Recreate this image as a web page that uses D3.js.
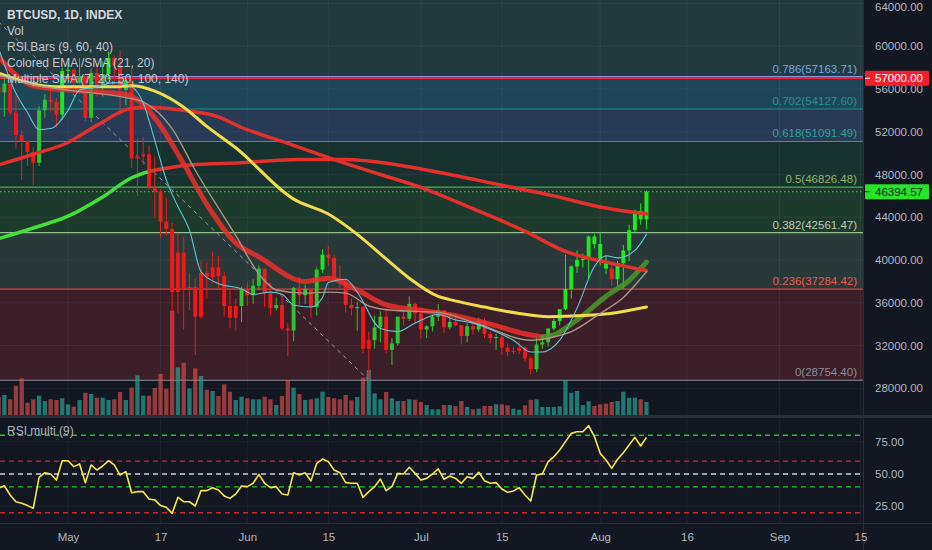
<!DOCTYPE html>
<html>
<head>
<meta charset="utf-8">
<script src="https://cdn.jsdelivr.net/npm/d3@7"></script>
<style>
  html, body { margin: 0; padding: 0; background: #131722; }
  svg { display: block; font-family: "Liberation Sans", Arial, sans-serif; }
</style>
</head>
<body>
<svg id="chart" width="932" height="550"></svg>
<script>
// BTCUSD daily, 2021-04-19 .. 2021-08-09 (113 bars)
const firstDay = "2021-04-19";
const lastDay = "2021-08-09";

const open = [
  56200,55700,56500,53800,51700,51100,50100,49100,54000,55000,54800,53600,
  57700,57800,56600,57200,53300,57500,56400,57400,58900,58200,55900,56800,49500,49700,49900,46800,46400,43600,42900,37000,40700,37300,37500,34700,38800,38400,39300,38500,35700,34600,35700,
  37300,36700,37600,39200,36900,35500,35800,33600,33400,37400,36700,37300,35600,39100,40500,40200,38300,38100,35800,35500,35600,31700,32500,33700,34700,31600,32200,34700,34500,35900,
  35000,33500,33800,34700,35300,33700,34200,33900,32900,33800,33500,34300,33100,32700,32800,31800,31400,31500,31800,30800,29800,32100,32300,33600,34300,35400,37300,39400,40000,40100,42200,
  41500,39900,39200,38200,39700,40900,42800,44600,43800
];
const high = [
  57500,57000,56800,55400,52100,51200,50600,54400,55500,56400,55200,58000,
  58500,57900,58900,57200,57900,58400,58600,59500,59200,59600,56900,58000,51400,51500,50700,49700,46600,45800,43500,42500,42200,38800,38300,39900,39800,40800,40400,38900,37200,36400,37500,
  37900,38200,39500,39200,37900,36500,36800,34100,37500,38400,37700,37400,39300,41000,41300,40500,39500,38200,36400,36100,35700,33300,34800,35200,35500,32700,34700,35300,36600,36000,
  35000,33900,34900,35900,35300,35000,35000,33900,34100,34200,34600,34600,33300,33100,33200,32200,31900,32400,31900,31000,32800,32600,33600,34500,35400,40500,39500,40900,40600,42300,42400,
  42600,40400,39800,39900,41400,43300,44700,45300,46500
];
const low = [
  54000,53400,53600,50400,47500,48800,47000,48800,53300,53900,52400,53100,
  57000,56000,56500,53000,52900,55300,55300,56900,56300,53600,54500,48600,46000,48900,46600,43900,42100,42300,30000,35000,33500,35300,31100,34500,36400,37800,37200,34700,33600,33400,34200,
  35700,35900,37200,35600,34800,35300,33400,31000,32400,35800,35900,34600,34800,38800,39500,38200,37400,35100,34800,33400,31300,28754,31700,32300,31300,30200,32000,33900,34300,34000,
  32700,32700,33300,34300,33200,33500,33800,32100,32300,33000,33300,32700,32200,31600,31100,31000,31200,31200,30500,29300,29500,31700,31900,33400,33900,35300,36400,38800,39300,38300,41100,
  39500,38700,37600,37500,37300,39900,42500,43300,42900
];
const close = [
  55700,56500,53800,51700,51100,50100,49100,54000,55000,54800,53600,57700,
  57800,56600,57200,53300,57500,56400,57400,58900,58200,55900,56800,49500,49700,49900,46800,46400,43600,42900,37000,40700,37300,37500,34700,38800,38400,39300,38500,35700,34600,35700,37300,
  36700,37600,39200,36900,35500,35800,33600,33400,37400,36700,37300,35600,39100,40500,40200,38300,38100,35800,35500,35600,31700,32500,33700,34700,31600,32200,34700,34500,35900,35000,
  33500,33800,34700,35300,33700,34200,33900,32900,33800,33500,34300,33100,32700,32800,31800,31400,31500,31800,30800,29800,32100,32300,33600,34300,35400,37300,39400,40000,40100,42200,41500,
  39900,39200,38200,39700,40900,42800,44600,43800,46394.57
];
// volume, arbitrary units
const volume = [
  18,20,15.7,29.3,36.7,12.3,15.7,19.3,14,15.7,15,16.7,
  10.7,8.3,15,22.3,21,17.3,17.3,15,15.7,23,15,27.3,39.7,19.3,19.3,27,41,26.3,104.3,47.7,52.3,26.7,46.7,39,25.3,24,19,30.7,23.3,15,18.3,
  16.7,15.7,15.7,18.3,15.7,10,19,35,27.3,21,15,15.7,16.7,23.3,18,16.7,15.7,20,14.7,18,37.3,45,21.7,15.7,23,16.7,14,14,15.7,15.3,
  13,10,5.7,5.7,10,10,8.7,14,8,5.7,6.3,9,9,10.7,10.7,9.7,6.3,5.3,9.7,15.3,15.7,8,8,8,8.7,34.7,22.3,24,10,13.7,9,
  10.7,11.3,13,14,23.3,17.3,17.3,15.7,13
];
// RSI (9)
const rsi = [
  38.9,40.9,33.7,28.5,27.3,25.5,23.4,47.4,51.0,50.0,45.3,60.3,
  60.3,55.7,57.8,43.3,57.0,53.1,56.2,60.3,57.0,49.2,51.8,35.5,36.3,36.3,30.6,29.9,25.5,24.2,19.5,31.9,28.5,28.5,25.2,37.1,37.1,39.4,37.6,33.0,31.1,34.5,40.7,
  40.2,42.8,49.7,42.8,39.4,40.2,34.5,33.7,51.0,49.2,51.0,44.6,58.3,61.6,59.6,53.1,51.0,43.3,42.8,42.8,31.9,36.3,40.2,46.1,37.1,40.2,50.5,50.0,55.2,50.5,
  45.3,46.6,50.0,53.9,45.9,48.4,46.6,42.8,47.9,46.6,51.3,44.8,42.8,43.3,38.4,35.8,36.8,39.4,33.7,29.1,49.2,50.0,59.6,63.4,68.6,75.1,81.5,82.8,82.8,87.5,79.0,
  66.0,60.9,54.4,61.4,66.5,72.5,78.4,71.7,78.4
];

// moving averages: [date, price]
const sma7 = [
  ["2021-04-19",59800],["2021-04-22",55600],["2021-04-24",53800],["2021-04-26",52200],["2021-04-28",52300],
  ["2021-05-01",54000],["2021-05-03",55900],["2021-05-06",56200],["2021-05-09",56600],["2021-05-12",56200],
  ["2021-05-14",54700],["2021-05-16",51200],["2021-05-18",47500],["2021-05-20",45000],["2021-05-22",42800],
  ["2021-05-24",38900],["2021-05-27",37800],["2021-05-31",37300],["2021-06-02",36800],["2021-06-05",37000],
  ["2021-06-07",36800],["2021-06-09",35800],["2021-06-12",35600],["2021-06-14",36500],["2021-06-15",37900],
  ["2021-06-18",38200],["2021-06-20",37000],["2021-06-24",33600],["2021-06-27",33300],["2021-06-30",34100],
  ["2021-07-04",34900],["2021-07-07",34400],["2021-07-10",34100],["2021-07-14",33300],["2021-07-17",32500],
  ["2021-07-20",31400],["2021-07-22",31400],["2021-07-25",32500],["2021-07-28",35500],["2021-07-31",39400],
  ["2021-08-02",40400],["2021-08-04",40200],["2021-08-07",40900],["2021-08-09",42400]
];
const sma20 = [
  ["2021-04-19",57300],["2021-04-25",56400],["2021-05-01",55900],["2021-05-11",55200],["2021-05-14",54800],
  ["2021-05-19",52300],["2021-05-23",48400],["2021-05-30",42300],["2021-06-03",38700],["2021-06-06",37200],
  ["2021-06-11",36900],["2021-06-15",37000],["2021-06-18",36900],["2021-06-22",35700],["2021-06-26",35300],
  ["2021-07-04",35100],["2021-07-11",34000],["2021-07-20",32500],["2021-07-24",32800],["2021-07-27",33300],
  ["2021-08-01",35000],["2021-08-05",36500],["2021-08-09",38900]
];
const sma50 = [
  ["2021-04-19",57500],["2021-04-29",56200],["2021-05-09",56200],["2021-05-12",56300],["2021-05-16",55800],
  ["2021-05-21",54300],["2021-05-25",52500],["2021-05-30",50500],["2021-06-09",45700],["2021-06-15",44300],
  ["2021-06-20",42400],["2021-06-25",40100],["2021-06-29",38300],["2021-07-04",36600],["2021-07-06",36300],
  ["2021-07-12",35600],["2021-07-18",35000],["2021-07-23",34700],["2021-07-29",34800],["2021-08-04",35100],
  ["2021-08-09",35600]
];
const sma100 = [
  ["2021-04-19",48900],["2021-04-25",49900],["2021-05-01",51000],["2021-05-06",52600],["2021-05-12",54200],
  ["2021-05-15",54300],["2021-05-21",54000],["2021-05-27",53400],["2021-05-31",52400],["2021-06-07",51100],
  ["2021-06-16",49400],["2021-06-24",48000],["2021-07-01",46800],["2021-07-10",44800],["2021-07-19",42700],
  ["2021-07-26",40800],["2021-08-02",39800],["2021-08-09",39000]
];
const sma140 = [
  ["2021-04-19",42000],["2021-04-25",43000],["2021-05-01",44100],["2021-05-07",45900],["2021-05-12",47700],
  ["2021-05-15",48300],["2021-05-22",48900],["2021-05-31",49100],["2021-06-10",49400],["2021-06-18",49400],
  ["2021-06-27",48900],["2021-07-06",48000],["2021-07-15",47000],["2021-07-24",46000],["2021-08-01",44960],
  ["2021-08-09",44300]
];
const sma140TurnsRed = "2021-05-15";
// Colored EMA / SMA (21, 20): red while bearish, green after the turn
const coloredMA = [
  ["2021-04-19",59000],["2021-04-25",56300],["2021-05-01",55900],["2021-05-07",55700],["2021-05-11",55500],
  ["2021-05-13",55000],["2021-05-16",53300],["2021-05-21",49000],["2021-05-25",45200],["2021-05-30",41600],
  ["2021-06-03",40300],["2021-06-11",38000],["2021-06-15",38300],["2021-06-20",37200],["2021-06-25",35800],
  ["2021-07-01",35300],["2021-07-07",34800],["2021-07-13",34000],["2021-07-19",33100],["2021-07-22",32800],
  ["2021-07-24",33000],["2021-07-28",34400],["2021-08-02",36600],["2021-08-06",38100],["2021-08-09",39800]
];
const coloredTurnsGreen = "2021-07-22";

// fib retracement
const fibRatios = [0, 0.236, 0.382, 0.5, 0.618, 0.702, 0.786, 1];
const fibPrices = [28754.40, 37284.42, 42561.47, 46826.48, 51091.49, 54127.60, 57163.71, 64898.56];
const fibHigh = ["2021-04-14", 64898.56];
const fibLow = ["2021-06-22", 28754.40];
const alertPrice = 57000;
const lastPrice = 46394.57;

const priceTicks = [28000, 32000, 36000, 40000, 44000, 48000, 52000, 56000, 60000, 64000];
const rsiTicks = [25, 50, 75];
const rsiLevels = [80, 60, 50, 40, 20];
const timeTicks = ["2021-05-01","2021-05-17","2021-06-01","2021-06-15","2021-07-01","2021-07-15","2021-08-01","2021-08-16","2021-09-01","2021-09-15"];
const timeLabels = ["May","17","Jun","15","Jul","15","Aug","16","Sep","15"];

const legend = ["BTCUSD, 1D, INDEX", "Vol", "RSI Bars (9, 60, 40)", "Colored EMA /SMA (21, 20)", "Multiple SMA (7, 20, 50, 100, 140)"];

// ---------------------------------------------------------------
const parse = d3.utcParse("%Y-%m-%d");
const svg = d3.select("#chart");
const W = 932, H = 550, plotR = 863, mainB = 415, rsiT = 418, rsiB = 523;

const x = d3.scaleUtc().domain([parse("2021-05-01"), parse("2021-09-15")]).range([68, 860.5]);
const y = d3.scaleLinear().domain([28000, 64000]).range([388.3, 3.5]);
const yv = d3.scaleLinear().domain([0, 100]).range([mainB, mainB - 100]);
const yr = d3.scaleLinear().domain([0, 100]).range([538.5, 409.5]);

const days = d3.utcDay.range(parse(firstDay), d3.utcDay.offset(parse(lastDay), 1));
const bars = days.map((d, i) => ({ date: d, o: open[i], h: high[i], l: low[i], c: close[i], v: volume[i], r: rsi[i] }));
const step = x(parse("2021-05-02")) - x(parse("2021-05-01"));

svg.append("rect").attr("width", W).attr("height", H).attr("fill", "#131722");

const defs = svg.append("defs");
defs.append("clipPath").attr("id", "clipMain").append("rect").attr("width", plotR).attr("height", mainB);
defs.append("clipPath").attr("id", "clipRsi").append("rect").attr("y", rsiT).attr("width", plotR).attr("height", rsiB - rsiT);

const main = svg.append("g").attr("clip-path", "url(#clipMain)");

// fib fills
const fibFill = ["#3b1f28", "#29393a", "#1e3a2c", "#17312f", "#293a54", "#1d4757", "#22393e"];
const fibLine = ["#8a8d96", "#e0413c", "#95c28a", "#4caf50", "#1fa39a", "#1e8f87", "#8497e0", "#8a8d96"];
const fibText = ["#8a8d96", "#f0554d", "#bcc8b8", "#8db36b", "#2aa39a", "#2a8f88", "#6fa6e8", "#8a8d96"];
const xFib0 = x(parse(fibHigh[0]));
main.selectAll("rect.fib").data(fibPrices.slice(0, -1)).join("rect")
  .attr("class", "fib")
  .attr("x", xFib0).attr("width", plotR - xFib0)
  .attr("y", (d, i) => y(fibPrices[i + 1]))
  .attr("height", (d, i) => y(d) - y(fibPrices[i + 1]))
  .attr("fill", (d, i) => fibFill[i]);

// grid
main.selectAll("line.hg").data(priceTicks).join("line")
  .attr("x1", 0).attr("x2", plotR).attr("y1", d => y(d)).attr("y2", d => y(d))
  .attr("stroke", "rgba(255,255,255,0.05)");
const gridX = svg.append("g");
gridX.selectAll("line").data(timeTicks).join("line")
  .attr("x1", d => x(parse(d))).attr("x2", d => x(parse(d)))
  .attr("y1", 0).attr("y2", rsiB)
  .attr("stroke", "rgba(255,255,255,0.05)");

// fib lines + labels
main.selectAll("line.fibl").data(fibPrices).join("line")
  .attr("x1", xFib0).attr("x2", plotR)
  .attr("y1", d => y(d)).attr("y2", d => y(d))
  .attr("stroke", (d, i) => fibLine[i]).attr("stroke-width", 1.2);
main.selectAll("text.fibt").data(fibPrices.slice(0, -1)).join("text")
  .attr("x", 857).attr("y", d => y(d) - 4)
  .attr("text-anchor", "end").attr("font-size", 11.5)
  .attr("fill", (d, i) => fibText[i])
  .text((d, i) => `${fibRatios[i]}(${d.toFixed(2)})`);

// alert + last price lines
main.append("line").attr("x1", 0).attr("x2", plotR).attr("y1", y(alertPrice)).attr("y2", y(alertPrice))
  .attr("stroke", "#f0283a").attr("stroke-width", 1.6);
main.append("line").attr("x1", 0).attr("x2", plotR).attr("y1", y(lastPrice)).attr("y2", y(lastPrice))
  .attr("stroke", "#22e622").attr("stroke-width", 1).attr("stroke-dasharray", "1.5,2.5");

// fib trend line
main.append("line")
  .attr("x1", x(parse(fibHigh[0]))).attr("y1", y(fibHigh[1]))
  .attr("x2", x(parse(fibLow[0]))).attr("y2", y(fibLow[1]))
  .attr("stroke", "#9598a1").attr("stroke-width", 1).attr("stroke-dasharray", "4,4");

// volume
const vw = step * 0.74;
main.selectAll("rect.vol").data(bars).join("rect")
  .attr("x", d => x(d.date) - vw / 2).attr("width", vw)
  .attr("y", d => yv(d.v)).attr("height", d => yv(0) - yv(d.v))
  .attr("fill", d => d.c >= d.o ? "rgba(38,166,154,0.68)" : "rgba(239,83,80,0.6)");

// candles (RSI Bars colouring)
function barColor(d) {
  if (d.r > 60) return "#22e622";
  if (d.r < 40) return "#f21818";
  return d.c >= d.o ? "#2fc42f" : "#ec1f1f";
}
const bw = step * 0.68;
const cg = main.append("g");
cg.selectAll("line").data(bars).join("line")
  .attr("x1", d => x(d.date)).attr("x2", d => x(d.date))
  .attr("y1", d => y(d.h)).attr("y2", d => y(d.l))
  .attr("stroke", barColor).attr("stroke-width", 1);
cg.selectAll("rect").data(bars).join("rect")
  .attr("x", d => x(d.date) - bw / 2).attr("width", bw)
  .attr("y", d => y(Math.max(d.o, d.c)))
  .attr("height", d => Math.max(1, Math.abs(y(d.o) - y(d.c))))
  .attr("fill", barColor);

// moving averages
const line = d3.line().x(d => x(parse(d[0]))).y(d => y(d[1])).curve(d3.curveMonotoneX);
function drawMA(data, color, width, opacity) {
  main.append("path").datum(data).attr("d", line)
    .attr("fill", "none").attr("stroke", color).attr("stroke-width", width)
    .attr("stroke-opacity", opacity || 1).attr("stroke-linejoin", "round").attr("stroke-linecap", "round");
}
function splitAt(data, date) {
  const t = parse(date);
  return [data.filter(d => parse(d[0]) <= t), data.filter(d => parse(d[0]) >= t)];
}
const [cmRed, cmGreen] = splitAt(coloredMA, coloredTurnsGreen);
drawMA(cmRed, "#ee2e2a", 5, 0.85);
drawMA(cmGreen, "#4a9a2a", 5, 0.85);

const [s140g, s140r] = splitAt(sma140, sma140TurnsRed);
drawMA(s140g, "#46df3a", 3.5);
drawMA(s140r, "#e3302c", 3.5);
drawMA(sma100, "#e3302c", 3.5);
drawMA(sma50, "#f0dc4c", 3);
drawMA(sma20, "#a89484", 1.4);
drawMA(sma7, "#5cc8d6", 1.1);

// legend
svg.selectAll("text.leg").data(legend).join("text")
  .attr("x", 7).attr("y", (d, i) => 15 + i * 16).attr("dy", "0.35em")
  .attr("font-size", 12)
  .attr("font-weight", (d, i) => i === 0 ? "bold" : "normal")
  .attr("fill", (d, i) => i === 0 ? "#d6d8de" : "#c3c6cd")
  .text(d => d);

// price axis
svg.append("line").attr("x1", plotR + 0.5).attr("x2", plotR + 0.5).attr("y1", 0).attr("y2", H).attr("stroke", "#2a2e39");
const pa = svg.append("g").attr("transform", `translate(${plotR},0)`)
  .call(d3.axisRight(y).tickValues(priceTicks).tickFormat(d3.format(".2f")).tickSize(0).tickPadding(12));
pa.select(".domain").remove();
pa.selectAll("text").attr("fill", "#b2b5be").attr("font-size", 11.5).attr("font-family", "Liberation Sans, Arial, sans-serif");
// keep the top label inside the picture
pa.selectAll(".tick").filter(d => y(d) < 7).select("text").attr("y", 7 - y(64000));

function priceTag(p, bg, fg) {
  const g = svg.append("g").attr("transform", `translate(${plotR + 2},${y(p)})`);
  g.append("rect").attr("x", 0).attr("y", -7.5).attr("width", 64).attr("height", 15).attr("rx", 1).attr("fill", bg);
  g.append("line").attr("x1", 0).attr("x2", 5).attr("y1", 0).attr("y2", 0).attr("stroke", fg);
  g.append("text").attr("x", 10).attr("dy", "0.35em").attr("font-size", 11.5).attr("fill", fg).text(d3.format(".2f")(p));
}
priceTag(alertPrice, "#f0202e", "#ffffff");
priceTag(lastPrice, "#26e426", "#131722");

// pane separators
svg.append("rect").attr("x", 0).attr("y", mainB).attr("width", W).attr("height", rsiT - mainB).attr("fill", "#2a2e39");
svg.append("line").attr("x1", 0).attr("x2", W).attr("y1", rsiB + 0.5).attr("y2", rsiB + 0.5).attr("stroke", "#2a2e39");

// RSI pane
const rp = svg.append("g").attr("clip-path", "url(#clipRsi)");
rp.selectAll("line.rg").data(rsiTicks).join("line")
  .attr("x1", 0).attr("x2", plotR).attr("y1", d => yr(d)).attr("y2", d => yr(d))
  .attr("stroke", "rgba(255,255,255,0.05)");
const levelColor = { 80: "#1fc41f", 60: "#c42b2b", 50: "#c9cbd1", 40: "#1fc41f", 20: "#c42b2b" };
rp.selectAll("line.lv").data(rsiLevels).join("line")
  .attr("x1", 0).attr("x2", plotR).attr("y1", d => yr(d)).attr("y2", d => yr(d))
  .attr("stroke", d => levelColor[d]).attr("stroke-width", 1.4).attr("stroke-dasharray", "5,4");
rp.append("path").datum(bars)
  .attr("d", d3.line().x(d => x(d.date)).y(d => yr(d.r)))
  .attr("fill", "none").attr("stroke", "#f5e64a").attr("stroke-width", 1.6).attr("stroke-linejoin", "round");
svg.append("text").attr("x", 7).attr("y", 431).attr("dy", "0.35em")
  .attr("font-size", 12).attr("fill", "#b2b5be").text("RSI multi (9)");
const ra = svg.append("g").attr("transform", `translate(${plotR},0)`)
  .call(d3.axisRight(yr).tickValues(rsiTicks).tickFormat(d3.format(".2f")).tickSize(0).tickPadding(12));
ra.select(".domain").remove();
ra.selectAll("text").attr("fill", "#b2b5be").attr("font-size", 11.5).attr("font-family", "Liberation Sans, Arial, sans-serif");

// time axis
const ta = svg.append("g").attr("transform", `translate(0,${rsiB})`)
  .call(d3.axisBottom(x).tickValues(timeTicks.map(parse)).tickFormat((d, i) => timeLabels[i]).tickSize(0).tickPadding(10));
ta.select(".domain").remove();
ta.selectAll("text").attr("fill", "#b2b5be").attr("font-size", 11.5).attr("font-family", "Liberation Sans, Arial, sans-serif");
</script>
</body>
</html>
